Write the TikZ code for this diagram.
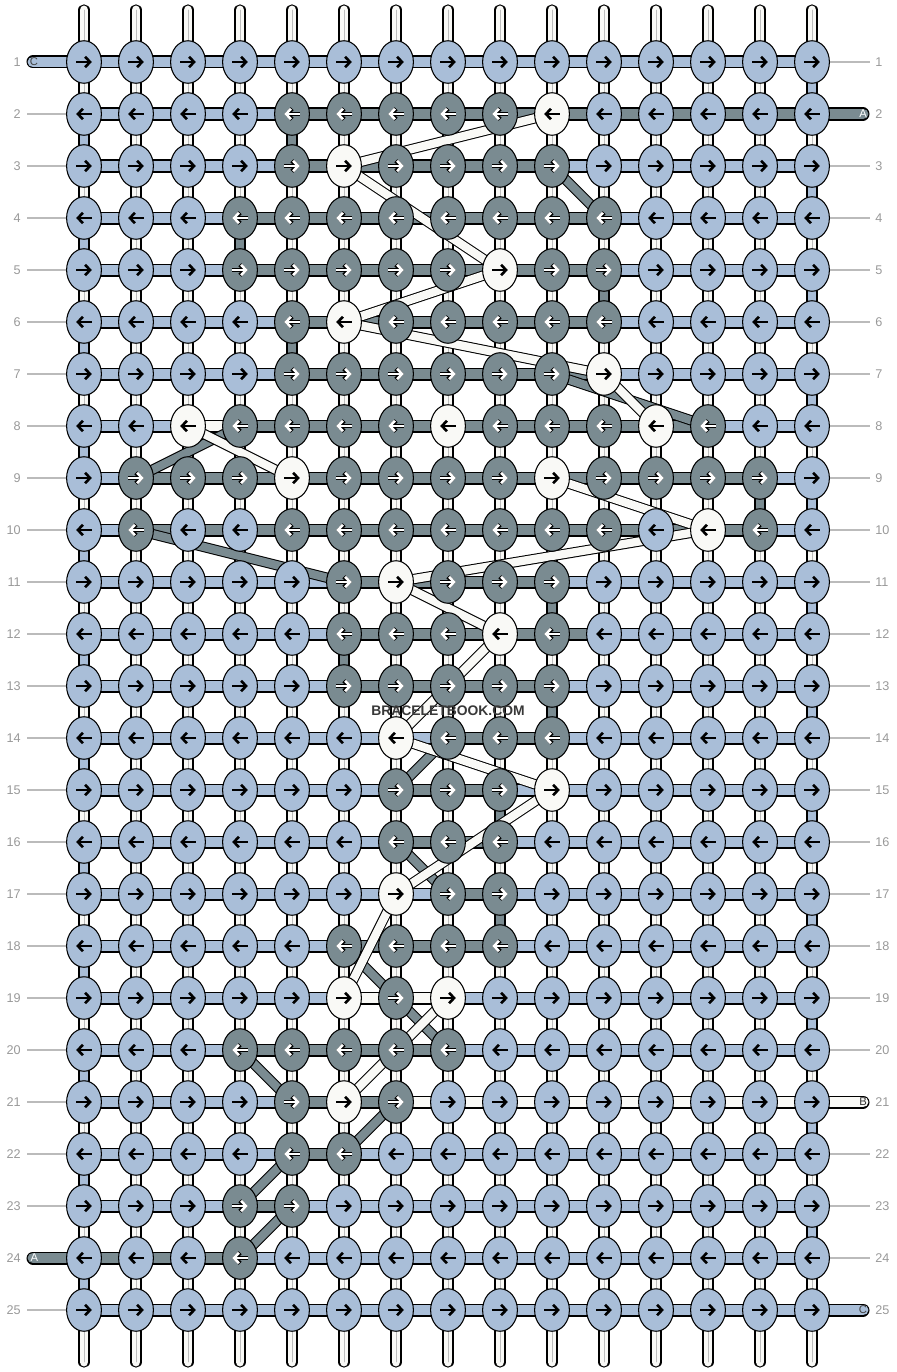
\documentclass[tikz,border=0pt]{standalone}
\usepackage{fontspec}
\setmainfont{Liberation Sans}
\usetikzlibrary{shapes.geometric}
\usetikzlibrary{arrows.meta}
\usetikzlibrary{backgrounds}

\definecolor{kblue}{HTML}{A9BED8}
\definecolor{kdark}{HTML}{7A8B91}
\definecolor{kwhite}{HTML}{F9F9F6}
\definecolor{guide}{HTML}{BBBBBB}
\definecolor{core}{HTML}{BDBDBD}
\definecolor{rowno}{HTML}{999999}

\tikzset{
  knot/.style={ellipse,draw=black,line width=0.6pt,minimum width=19.8pt,minimum height=24.2pt,inner sep=0pt},
  kb/.style={knot,fill=kblue},
  kd/.style={knot,fill=kdark},
  kw/.style={knot,fill=kwhite},
  ab/.style={line width=1.45pt,-{Straight Barb[length=2.9pt,width=6pt]}},
  aw/.style={ab},
  ad/.style={ab,draw=white,preaction={draw=black,line width=2.4pt}},
  warp/.style={draw=kwhite,line width=5.1pt,line cap=round,preaction={draw=black,line width=6.4pt,line cap=round},postaction={draw=core,line width=0.45pt}},
  hb/.style={draw=kblue,line width=6.2pt,preaction={draw=black,line width=7.4pt}},
  hd/.style={draw=kdark,line width=6.2pt,preaction={draw=black,line width=7.4pt}},
  hw/.style={draw=kwhite,line width=6.2pt,preaction={draw=black,line width=7.4pt}},
  eb/.style={draw=kblue,line width=6.2pt,line cap=round,preaction={draw=black,line width=7.4pt,line cap=round}},
  ed/.style={draw=kdark,line width=6.2pt,line cap=round,preaction={draw=black,line width=7.4pt,line cap=round}},
  ew/.style={draw=kwhite,line width=6.2pt,line cap=round,preaction={draw=black,line width=7.4pt,line cap=round}},
  vb/.style={draw=kblue,line width=5.1pt,preaction={draw=black,line width=6.4pt}},
  vd/.style={draw=kdark,line width=5.1pt,preaction={draw=black,line width=6.4pt}},
  gd/.style={draw=kdark,line width=4.7pt,preaction={draw=black,line width=5.9pt}},
  gw/.style={draw=kwhite,line width=4.7pt,preaction={draw=black,line width=5.9pt}},
  guideline/.style={draw=guide,line width=0.6pt},
  rownum/.style={text=rowno,inner sep=0pt,font=\fontsize{7.2pt}{8pt}\selectfont},
  endtag/.style={inner sep=0pt,font=\fontsize{6.4pt}{7pt}\selectfont}
}

\begin{document}
\begin{tikzpicture}[x=0.02cm,y=-0.02cm]
\useasboundingbox (0,0) rectangle (896,1372);

% knots, row by row
\foreach \r/\row in {
  1/{b,b,b,b,b,b,b,b,b,b,b,b,b,b,b},
  2/{b,b,b,b,d,d,d,d,d,w,b,b,b,b,b},
  3/{b,b,b,b,d,w,d,d,d,d,b,b,b,b,b},
  4/{b,b,b,d,d,d,d,d,d,d,d,b,b,b,b},
  5/{b,b,b,d,d,d,d,d,w,d,d,b,b,b,b},
  6/{b,b,b,b,d,w,d,d,d,d,d,b,b,b,b},
  7/{b,b,b,b,d,d,d,d,d,d,w,b,b,b,b},
  8/{b,b,w,d,d,d,d,w,d,d,d,w,d,b,b},
  9/{b,d,d,d,w,d,d,d,d,w,d,d,d,d,b},
  10/{b,d,b,b,d,d,d,d,d,d,d,b,w,d,b},
  11/{b,b,b,b,b,d,w,d,d,d,b,b,b,b,b},
  12/{b,b,b,b,b,d,d,d,w,d,b,b,b,b,b},
  13/{b,b,b,b,b,d,d,d,d,d,b,b,b,b,b},
  14/{b,b,b,b,b,b,w,d,d,d,b,b,b,b,b},
  15/{b,b,b,b,b,b,d,d,d,w,b,b,b,b,b},
  16/{b,b,b,b,b,b,d,d,d,b,b,b,b,b,b},
  17/{b,b,b,b,b,b,w,d,d,b,b,b,b,b,b},
  18/{b,b,b,b,b,d,d,d,d,b,b,b,b,b,b},
  19/{b,b,b,b,b,w,d,w,b,b,b,b,b,b,b},
  20/{b,b,b,d,d,d,d,d,b,b,b,b,b,b,b},
  21/{b,b,b,b,d,w,d,b,b,b,b,b,b,b,b},
  22/{b,b,b,b,d,d,b,b,b,b,b,b,b,b,b},
  23/{b,b,b,d,d,b,b,b,b,b,b,b,b,b,b},
  24/{b,b,b,d,b,b,b,b,b,b,b,b,b,b,b},
  25/{b,b,b,b,b,b,b,b,b,b,b,b,b,b,b}} {
  \pgfmathsetmacro\yy{62+52*(\r-1)}
  \foreach \k [count=\c] in \row {
    \pgfmathsetmacro\xx{84+52*(\c-1)}
    \node[k\k] (k-\r-\c) at (\xx,\yy) {};
    \ifodd\r\relax
      \draw[a\k] ([xshift=-4.5pt]k-\r-\c.center) -- ([xshift=4.5pt]k-\r-\c.center);
    \else
      \draw[a\k] ([xshift=4.5pt]k-\r-\c.center) -- ([xshift=-4.5pt]k-\r-\c.center);
    \fi
  }
  \node[rownum,anchor=east] (nl-\r) at (21,\yy) {\r};
  \node[rownum,anchor=west] (nr-\r) at (875,\yy) {\r};
  \coordinate (gl-\r) at (27,\yy);
  \coordinate (gr-\r) at (870,\yy);
}

\begin{pgfonlayer}{background}
% warp strings
\foreach \c in {1,...,15} {
  \pgfmathsetmacro\xx{84+52*(\c-1)}
  \coordinate (wt-\c) at (\xx,10);
  \coordinate (wb-\c) at (\xx,1362);
  \draw[warp] (wt-\c) -- (wb-\c);
}
% turns at the row ends
\foreach \r in {2,4,...,24} {
  \pgfmathtruncatemacro\rn{\r+1}
  \draw[vb] (k-\r-1.center) -- (k-\rn-1.center);
}
\foreach \r in {1,3,...,23} {
  \pgfmathtruncatemacro\rn{\r+1}
  \draw[vb] (k-\r-15.center) -- (k-\rn-15.center);
}
\foreach \r/\c in {2/5,4/4,5/11,6/5,9/14,11/10,12/6,13/10,15/9,17/9} {
  \pgfmathtruncatemacro\rn{\r+1}
  \draw[vd] (k-\r-\c.center) -- (k-\rn-\c.center);
}
% strings between the knots
\foreach \r/\row in {
  1/{b,b,b,b,b,b,b,b,b,b,b,b,b,b},
  2/{b,b,b,b,d,d,d,d,d,d,d,d,d,d},
  3/{b,b,b,b,d,d,d,d,d,b,b,b,b,b},
  4/{b,b,b,d,d,d,d,d,d,d,b,b,b,b},
  5/{b,b,b,d,d,d,d,d,d,d,b,b,b,b},
  6/{b,b,b,b,d,d,d,d,d,d,b,b,b,b},
  7/{b,b,b,b,d,d,d,d,d,d,b,b,b,b},
  8/{b,b,w,d,d,d,d,d,d,d,d,d,b,b},
  9/{b,d,d,d,d,d,d,d,d,d,d,d,d,b},
  10/{b,d,d,d,d,d,d,d,d,d,d,d,d,b},
  11/{b,b,b,b,b,d,d,d,d,b,b,b,b,b},
  12/{b,b,b,b,b,d,d,d,d,d,b,b,b,b},
  13/{b,b,b,b,b,d,d,d,d,b,b,b,b,b},
  14/{b,b,b,b,b,b,b,d,d,b,b,b,b,b},
  15/{b,b,b,b,b,b,d,d,b,b,b,b,b,b},
  16/{b,b,b,b,b,b,d,d,b,b,b,b,b,b},
  17/{b,b,b,b,b,b,b,d,b,b,b,b,b,b},
  18/{b,b,b,b,b,d,d,d,b,b,b,b,b,b},
  19/{b,b,b,b,b,w,w,b,b,b,b,b,b,b},
  20/{b,b,b,d,d,d,d,b,b,b,b,b,b,b},
  21/{b,b,b,b,d,d,w,w,w,w,w,w,w,w},
  22/{b,b,b,b,d,b,b,b,b,b,b,b,b,b},
  23/{b,b,b,d,b,b,b,b,b,b,b,b,b,b},
  24/{d,d,d,b,b,b,b,b,b,b,b,b,b,b},
  25/{b,b,b,b,b,b,b,b,b,b,b,b,b,b}} {
  \foreach \s [count=\c] in \row {
    \pgfmathtruncatemacro\cn{\c+1}
    \draw[h\s] (k-\r-\c.center) -- (k-\r-\cn.center);
  }
}
% string ends
\coordinate (el-1) at (33,62);
\coordinate (el-24) at (33,1258);
\coordinate (er-2) at (863,114);
\coordinate (er-21) at (863,1102);
\coordinate (er-25) at (863,1310);
\draw[eb] (el-1) -- (k-1-1.center);
\draw[ed] (el-24) -- (k-24-1.center);
\draw[ed] (k-2-15.center) -- (er-2);
\draw[ew] (k-21-15.center) -- (er-21);
\draw[eb] (k-25-15.center) -- (er-25);
% strings carried across
\foreach \ra/\ca/\rb/\cb in {3/10/4/11,7/10/8/13,8/4/9/2,10/2/11/6,14/8/15/7,16/7/17/8,
    18/6/19/7,19/7/20/8,20/4/21/5,21/7/22/6,22/5/23/4,23/5/24/4}
  \draw[gd] (k-\ra-\ca.center) -- (k-\rb-\cb.center);
\foreach \ra/\ca/\rb/\cb in {2/10/3/6,3/6/5/9,5/9/6/6,6/6/7/11,7/11/8/12,8/3/9/5,9/10/10/13,
    10/13/11/7,11/7/12/9,12/9/14/7,14/7/15/10,15/10/17/7,17/7/19/6,19/8/21/6}
  \draw[gw] (k-\ra-\ca.center) -- (k-\rb-\cb.center);
\end{pgfonlayer}

\foreach \r in {2,...,23,25}
  \draw[guideline] (gl-\r) -- (k-\r-1.west);
\foreach \r in {1,3,4,...,20,22,23,24}
  \draw[guideline] (k-\r-15.east) -- (gr-\r);

\node[endtag,text=black!75] (tag-c1) at ([xshift=0.6pt]el-1) {C};
\node[endtag,text=white] (tag-a24) at ([xshift=0.8pt]el-24) {A};
\node[endtag,text=white] (tag-a2) at (er-2) {A};
\node[endtag,text=black!80] (tag-b21) at (er-21) {B};
\node[endtag,text=black!75] (tag-c25) at (er-25) {C};

\node[font=\bfseries\fontsize{7.9pt}{9pt}\selectfont,text=black!78,inner sep=0pt] (mark) at (448,711) {BRACELETBOOK.COM};
\end{tikzpicture}
\end{document}
